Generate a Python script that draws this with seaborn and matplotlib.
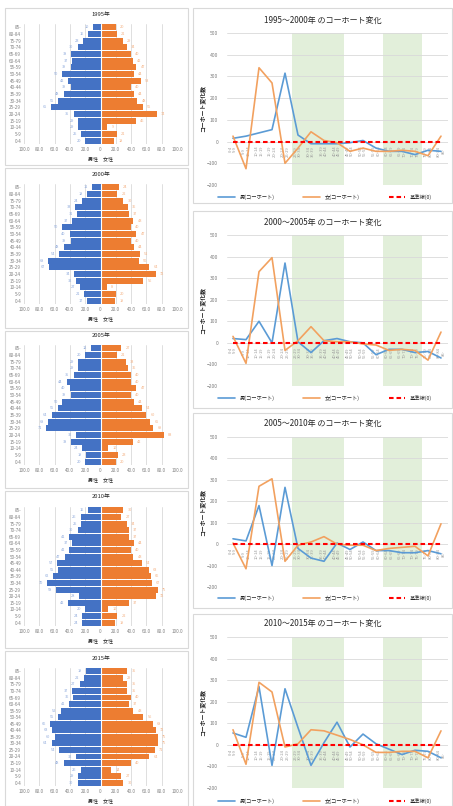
import numpy as np
import pandas as pd
import seaborn as sns
import matplotlib
matplotlib.use("Agg")
import matplotlib.pyplot as plt
from matplotlib.patches import Rectangle

sns.set_theme(style="white")
plt.rcParams["font.family"] = ["Noto Sans CJK JP", "DejaVu Sans"]

W, H = 453, 806

# ---------------- data ----------------
ages = ["0-4", "5-9", "10-14", "15-19", "20-24", "25-29", "30-34", "35-39",
        "40-44", "45-49", "50-54", "55-59", "60-64", "65-69", "70-74",
        "75-79", "80-84", "85-"]
years = ["1995", "2000", "2005", "2010", "2015"]

# population by age group (0-4 ... 85-)
male_1995 = [20, 25, 29, 29, 35, 65, 55, 48, 39, 42, 50, 39, 37, 38, 30, 23, 16, 10]
female_1995 = [18, 21, 9, 46, 74, 55, 48, 44, 40, 53, 44, 47, 42, 40, 34, 29, 21, 20]
male_2000 = [17, 21, 27, 32, 34, 67, 68, 54, 48, 39, 40, 50, 37, 31, 33, 24, 18, 11]
female_2000 = [19, 20, 8, 56, 72, 64, 50, 51, 44, 40, 47, 40, 43, 37, 36, 30, 22, 24]
male_2005 = [20, 19, 24, 38, 32, 71, 68, 64, 55, 50, 39, 40, 44, 35, 29, 29, 20, 12]
female_2005 = [20, 23, 10, 42, 83, 69, 65, 60, 54, 44, 40, 47, 40, 40, 36, 33, 21, 27]
male_2010 = [24, 24, 20, 42, 28, 58, 70, 62, 55, 57, 47, 41, 37, 41, 30, 25, 26, 16]
female_2010 = [19, 22, 10, 37, 72, 75, 67, 66, 63, 54, 43, 40, 44, 37, 37, 34, 27, 30]
male_2015 = [30, 29, 26, 48, 32, 54, 64, 60, 63, 66, 55, 52, 41, 36, 37, 27, 22, 19]
female_2015 = [30, 27, 14, 40, 64, 71, 75, 75, 72, 68, 56, 43, 37, 40, 35, 35, 29, 35]

male_pop = [male_1995, male_2000, male_2005, male_2010, male_2015]
female_pop = [female_1995, female_2000, female_2005, female_2010, female_2015]

pyr_ticks = [-100, -80, -60, -40, -20, 0, 20, 40, 60, 80, 100]

# cohort change between censuses (cohort aged 0-4 -> 5-9, ..., 80-84 -> 85-)
periods = ["1995～2000年", "2000～2005年", "2005～2010年", "2010～2015年"]
male_chg_1 = [15, 25, 40, 55, 315, 30, -10, -10, -10, -5, 5, -30, -45, -45, -60, -40, -45]
female_chg_1 = [25, -125, 340, 270, -100, -30, 45, 5, -5, -45, -30, -45, -45, -40, -45, -65, 25]
male_chg_2 = [20, 15, 100, 0, 370, 5, -45, 10, 20, 5, 0, -55, -30, -30, -45, -40, -70]
female_chg_2 = [30, -95, 330, 395, -35, 10, 75, 10, 5, 5, -5, -10, -35, -30, -35, -80, 50]
male_chg_3 = [25, 15, 180, -100, 265, -20, -65, -80, 5, -25, 10, -30, -30, -40, -40, -30, -45]
female_chg_3 = [5, -115, 270, 305, -80, -5, 10, 35, 0, -5, -5, -30, -20, -15, -10, -55, 95]
male_chg_4 = [55, 35, 270, -95, 260, 80, -95, 10, 105, -10, 50, 5, -20, -45, -25, -30, -60]
female_chg_4 = [70, -90, 290, 245, -10, 5, 70, 65, 45, 25, 0, -35, -35, -30, -30, -60, 65]
male_chg = [male_chg_1, male_chg_2, male_chg_3, male_chg_4]
female_chg = [female_chg_1, female_chg_2, female_chg_3, female_chg_4]
baseline = [0] * 17
cohort_labels = [f"{ages[i]}\n{ages[i + 1]}" for i in range(17)]
highlight_spans = [(4.5, 8.5), (11.5, 14.5)]
chg_ticks = [-200, -100, 0, 100, 200, 300, 400, 500]

# ---------------- styles ----------------
BLUE_BAR = "#4472c4"
ORANGE_BAR = "#ed7d31"
BLUE_LINE = "#5b9bd5"
ORANGE_LINE = "#f2a15f"
RED = "#ff0000"
GREEN = "#e2efda"
GRID = "#d9d9d9"
TICK = "#7f7f7f"
BORDER = "#d9d9d9"

fig = plt.figure(figsize=(W / 100, H / 100), dpi=100)
fig.patch.set_facecolor("white")


def px_axes(x0, y0, x1, y1):
    return fig.add_axes([x0 / W, 1 - y1 / H, (x1 - x0) / W, (y1 - y0) / H])


def px_box(x0, y0, x1, y1):
    fig.patches.append(Rectangle((x0 / W, 1 - y1 / H), (x1 - x0) / W, (y1 - y0) / H,
                                 transform=fig.transFigure, fill=False,
                                 edgecolor=BORDER, lw=0.8, zorder=0))


def fx(x):
    return x / W


def fy(y):
    return 1 - y / H


# ---------------- population pyramids ----------------
pyr_boxes = [(5, 8, 188, 165), (5, 168, 188, 328), (5, 331, 188, 488),
             (5, 491, 188, 648), (5, 651, 188, 806)]
pyr_axes = [(24, 24, 177, 144), (24, 184, 177, 304), (24, 345, 177, 465),
            (24, 507, 177, 626), (24, 668, 177, 786)]
pyr_titles = [15, 175, 336, 496, 658]

for k, yr in enumerate(years):
    px_box(*pyr_boxes[k])
    x0, y0, x1, y1 = pyr_axes[k]
    ax = px_axes(x0, y0, x1, y1)
    df = pd.DataFrame({
        "age": ages * 2,
        "value": [-v for v in male_pop[k]] + list(female_pop[k]),
        "sex": ["男"] * len(ages) + ["女"] * len(ages),
    })
    sns.barplot(data=df, x="value", y="age", hue="sex", order=ages[::-1],
                hue_order=["男", "女"], palette=[BLUE_BAR, ORANGE_BAR],
                dodge=False, width=0.9, legend=False, ax=ax, zorder=2,
                saturation=1, linewidth=0)
    for cont, col in zip(ax.containers, ["#8faadc", "#f4b183"]):
        ax.bar_label(cont, labels=[f"{abs(b.get_width()):.0f}" for b in cont],
                     padding=3, fontsize=2.8, color=col)
    ax.axvline(0, color="white", lw=0.8, zorder=3)
    ax.set_xlim(-100, 100)
    ax.set_xticks(pyr_ticks)
    ax.set_xticklabels(["0" if t == 0 else f"{abs(t):.1f}" for t in pyr_ticks])
    ax.grid(axis="x", color=GRID, lw=0.6)
    ax.set_axisbelow(True)
    ax.tick_params(axis="both", length=0, labelsize=3.3, colors=TICK, pad=2)
    ax.set_xlabel("")
    ax.set_ylabel("")
    sns.despine(ax=ax, left=True, bottom=True)
    fig.text(fx(101), fy(pyr_titles[k]), f"{yr}年", ha="center", va="center",
             fontsize=4.2, color="#262626")
    fig.text(fx(101), fy(y1 + 15), "男性　女性", ha="center", va="center",
             fontsize=3.6, color="#262626")

# ---------------- cohort change charts ----------------
chg_boxes = [(193, 8, 452, 203), (193, 211, 452, 408), (193, 413, 452, 608),
             (193, 614, 452, 806)]
chg_axes = [(226.5, 33, 447.5, 185), (226.5, 235, 447.5, 386),
            (226.5, 437, 447.5, 587), (226.5, 637, 447.5, 788)]
chg_titles = [20, 222, 423, 623]
chg_legend = [197, 398, 598, 801]

x_idx = list(range(17))
for k, per in enumerate(periods):
    px_box(*chg_boxes[k])
    x0, y0, x1, y1 = chg_axes[k]
    ax = px_axes(x0, y0, x1, y1)
    for a, b in highlight_spans:
        ax.axvspan(a, b, color=GREEN, lw=0, zorder=0)
    sns.lineplot(x=x_idx, y=male_chg[k], color=BLUE_LINE, lw=1.2,
                 label="男(コーホート)", ax=ax, zorder=3)
    sns.lineplot(x=x_idx, y=female_chg[k], color=ORANGE_LINE, lw=1.2,
                 label="女(コーホート)", ax=ax, zorder=3)
    sns.lineplot(x=x_idx, y=baseline, color=RED, lw=1.5,
                 label="基準線(0)", ax=ax, zorder=4)
    ax.lines[-1].set_linestyle((0, (2.2, 1.4)))
    ax.set_xlim(-0.5, 16.5)
    ax.set_ylim(-200, 500)
    ax.set_yticks(chg_ticks)
    ax.set_xticks(x_idx)
    ax.set_xticklabels(cohort_labels, linespacing=0.9)
    ax.spines["bottom"].set_position(("data", 0))
    for s in ["top", "right", "left", "bottom"]:
        ax.spines[s].set_visible(False)
    ax.grid(axis="y", color=GRID, lw=0.6)
    ax.set_axisbelow(True)
    ax.tick_params(axis="y", length=0, labelsize=3.6, colors=TICK, pad=6)
    ax.tick_params(axis="x", length=0, labelsize=3.0, colors="#9a9a9a", pad=3,
                   labelrotation=90)
    for t in ax.get_xticklabels():
        t.set_rotation(90)
        t.set_va("top")
        t.set_ha("center")
    ax.set_xlabel("")
    ax.set_ylabel("")
    handles, labels = ax.get_legend_handles_labels()
    ax.get_legend().remove()
    fig.legend(handles, labels, loc="center", ncol=3, frameon=False,
               fontsize=3.8, handlelength=3.2, columnspacing=5.5,
               bbox_to_anchor=(fx(325), fy(chg_legend[k])),
               bbox_transform=fig.transFigure)
    fig.text(fx(323), fy(chg_titles[k]), f"{per} のコーホート変化",
             ha="center", va="center", fontsize=5.8, color="#262626")
    fig.text(fx(203), fy((y0 + y1) / 2), "コーホート変化数", rotation=90,
             ha="center", va="center", fontsize=4.2, color="#262626",
             fontweight="bold")

fig.savefig("out.png", dpi=100, facecolor="white")
